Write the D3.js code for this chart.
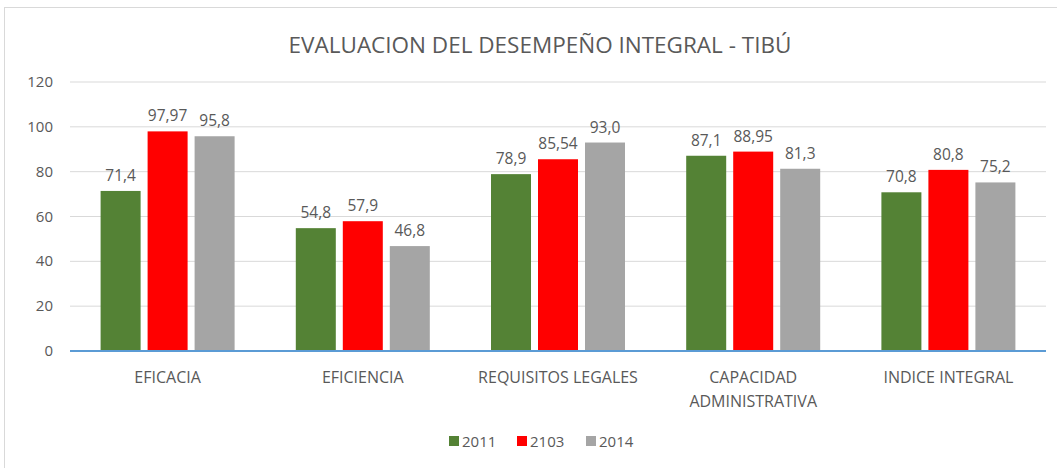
<!DOCTYPE html>
<html><head><meta charset="utf-8">
<script src="https://cdn.jsdelivr.net/npm/d3@7"></script>
<style>
body{margin:0;background:#fff;}
text{font-family:"Open Sans",sans-serif;fill:#595959;}
</style></head><body>
<svg id="c" width="1057" height="468"></svg>
<script>
const categories = ["EFICACIA","EFICIENCIA","REQUISITOS LEGALES","CAPACIDAD|ADMINISTRATIVA","INDICE INTEGRAL"];
const seriesNames = ["2011","2103","2014"];
const values2011 = [71.4, 54.8, 78.9, 87.1, 70.8];
const values2103 = [97.97, 57.9, 85.54, 88.95, 80.8];
const values2014 = [95.8, 46.8, 93.0, 81.3, 75.2];
const labels2011 = ["71,4","54,8","78,9","87,1","70,8"];
const labels2103 = ["97,97","57,9","85,54","88,95","80,8"];
const labels2014 = ["95,8","46,8","93,0","81,3","75,2"];
const yTicks = [0,20,40,60,80,100,120];
const colors = ["#548235","#ff0000","#a5a5a5"];

const series = [values2011, values2103, values2014];
const seriesLabels = [labels2011, labels2103, labels2014];

const svg = d3.select("#c");
svg.append("rect").attr("x",4.5).attr("y",7.5).attr("width",1060).attr("height",470)
  .attr("fill","none").attr("stroke","#d9d9d9");

const pLeft = 70, pRight = 1046, pTop = 82, pBottom = 351;
const x = d3.scaleBand().domain(categories).range([pLeft,pRight]).paddingInner(0).paddingOuter(0);
const y = d3.scaleLinear().domain([0,120]).range([pBottom, pTop]);
const groupW = 40*3+7*2;
const xs = d3.scaleBand().domain(seriesNames).range([0, groupW]).paddingInner(7/47);

svg.append("text").attr("x",540).attr("y",53).attr("text-anchor","middle")
  .style("font-size","22.5px").text("EVALUACION DEL DESEMPEÑO INTEGRAL - TIBÚ");

const gy = svg.append("g");
yTicks.forEach(t=>{
  if(t>0) gy.append("line").attr("x1",pLeft).attr("x2",pRight).attr("y1",y(t)).attr("y2",y(t))
    .attr("stroke","#d9d9d9").attr("stroke-width",1);
  gy.append("text").attr("x",53).attr("y",y(t)+5).attr("text-anchor","end")
    .style("font-size","15px").text(t);
});

series.forEach((vals,si)=>{
  vals.forEach((v,ci)=>{
    const cx = x(categories[ci]) + x.bandwidth()/2 - groupW/2 + xs(seriesNames[si]);
    svg.append("rect").attr("x",cx).attr("y",y(v)).attr("width",xs.bandwidth())
      .attr("height",y(0)-y(v)).attr("fill",colors[si]);
    svg.append("text").attr("x",cx+xs.bandwidth()/2).attr("y",y(v)-10)
      .attr("text-anchor","middle").style("font-size","15.5px").text(seriesLabels[si][ci]);
  });
});

svg.append("line").attr("x1",pLeft).attr("x2",pRight).attr("y1",y(0)).attr("y2",y(0))
  .attr("stroke","#5b9bd5").attr("stroke-width",2);

categories.forEach(c=>{
  const lines = c.split("|");
  lines.forEach((l,i)=>{
    svg.append("text").attr("x",x(c)+x.bandwidth()/2).attr("y",383+i*24)
      .attr("text-anchor","middle").style("font-size","16px").text(l);
  });
});

const legX = [449, 517, 586];
seriesNames.forEach((s,i)=>{
  svg.append("rect").attr("x",legX[i]).attr("y",436).attr("width",10).attr("height",10).attr("fill",colors[i]);
  svg.append("text").attr("x",legX[i]+13).attr("y",447).style("font-size","15px").text(s);
});
</script></body></html>
